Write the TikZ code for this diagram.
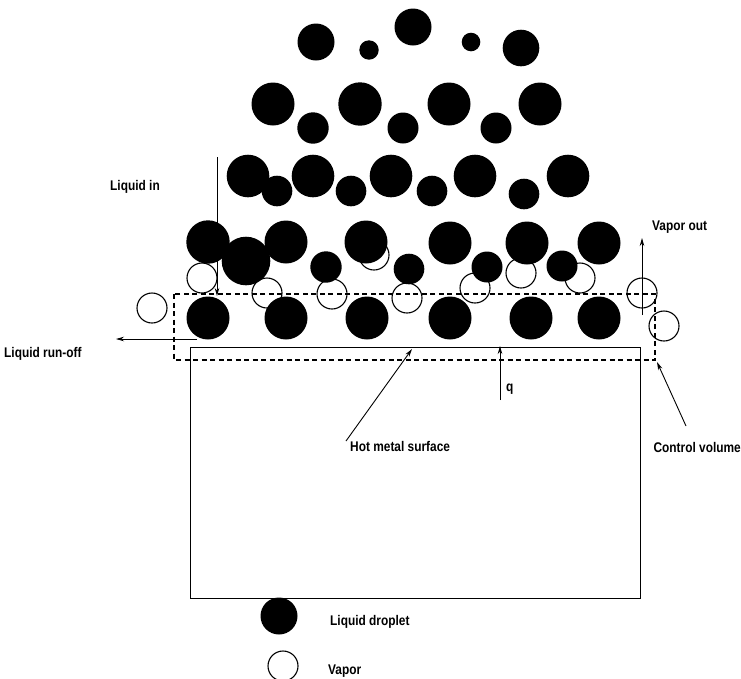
\documentclass[tikz,border=0pt]{standalone}
\usepackage{fontspec}
\setmainfont{Liberation Sans}[FakeStretch=0.85]
\usetikzlibrary{arrows.meta}
\begin{document}
\begin{tikzpicture}[x=1pt,y=-1pt,
  lbl/.style={font=\bfseries\fontsize{14}{16}\selectfont, inner sep=0pt},
  liq/.style={fill=black},
  vap/.style={draw=black, fill=white, line width=1.1pt},
  cv/.style={draw=black, line width=1.1pt, dash pattern=on 5pt off 3.5pt},
  ptr/.style={draw=black, line width=0.9pt, -{Stealth[length=8pt,width=4.5pt]}}]
\useasboundingbox (0,0) rectangle (741,678);

% vapour bubbles (drawn first, droplets overlap them)
\foreach \x/\y in {152/308, 202/278, 267/293, 332/294, 374/255, 407/298,
                   475/288, 521/273, 580/278, 642/293, 664/326}
  \path[vap] (\x,\y) circle (15);

% top row of the spray
\foreach \x/\y/\r in {316/42/18.5, 369/50/9.7, 413/27/18.5, 471/42/9.3, 521/48/18.3}
  \fill[liq] (\x,\y) circle (\r);
% second row
\foreach \x/\y/\r in {273/104/21.5, 313/128/15.7, 360/104/21.7, 403/128/15.5,
                      449/104/21.5, 496/128/15.5, 540/104/21.5}
  \fill[liq] (\x,\y) circle (\r);
% third row
\foreach \x/\y/\r in {248/176/21.3, 277/191/15.3, 313/176/21.3, 351/191/15.3,
                      391/176/21.3, 432/191/15.3, 475/176/21.3, 524/194/15.3, 568/176/21.3}
  \fill[liq] (\x,\y) circle (\r);
% fourth row
\foreach \x/\y/\r in {208/242/21.7, 246/261/24.3, 286/242/21.5, 326/267/15.7,
                      366/242/21.5, 409/269/15.3, 450/243/21.5, 487/267/15.5,
                      527/243/21.5, 562/266/15.5, 599/243/21.5}
  \fill[liq] (\x,\y) circle (\r);
% droplets on the surface
\foreach \x in {208, 286, 367, 450, 531, 599}
  \fill[liq] (\x,318) circle (21.5);

% hot metal block
\draw[line width=1pt] (190,347.5) rectangle (640,598);

% control volume
\path[cv] (174,294) rectangle (655,360);

% arrow end points
\coordinate (inTop) at (217,157);
\coordinate (inEnd) at (217,296);
\coordinate (runStart) at (197,339);
\coordinate (runEnd) at (116,339);
\coordinate (vapStart) at (642,315);
\coordinate (vapEnd) at (642,238);
\coordinate (qStart) at (500,400);
\coordinate (qEnd) at (500,346);
\coordinate (hotStart) at (346,441);
\coordinate (hotEnd) at (412,349);
\coordinate (cvStart) at (686,426);
\coordinate (cvEnd) at (657,362);

\draw[ptr] (inTop) -- (inEnd);
\draw[ptr, line width=0.8pt] (runStart) -- (runEnd);
\draw[ptr] (vapStart) -- (vapEnd);
\draw[ptr] (qStart) -- (qEnd);
\draw[ptr] (hotStart) -- (hotEnd);
\draw[ptr] (cvStart) -- (cvEnd);

% labels
\node[lbl, anchor=base west] (tIn) at (110,190) {Liquid in};
\node[lbl, anchor=base west] (tRun) at (4,357) {Liquid run-off};
\node[lbl, anchor=base west] (tVap) at (652,230) {Vapor out};
\node[lbl, anchor=base west] (tQ) at (506,391) {q};
\node[lbl, anchor=base west] (tHot) at (350,451) {Hot metal surface};
\node[lbl, anchor=base east] (tCv) at (741,452) {Control volume};

% legend
\fill[liq] (279,616) circle (18.5);
\path[vap] (283,666) circle (15);
\node[lbl, anchor=base west] (tLiq) at (330,625) {Liquid droplet};
\node[lbl, anchor=base west] (tVapor) at (328,674) {Vapor};
\end{tikzpicture}
\end{document}
